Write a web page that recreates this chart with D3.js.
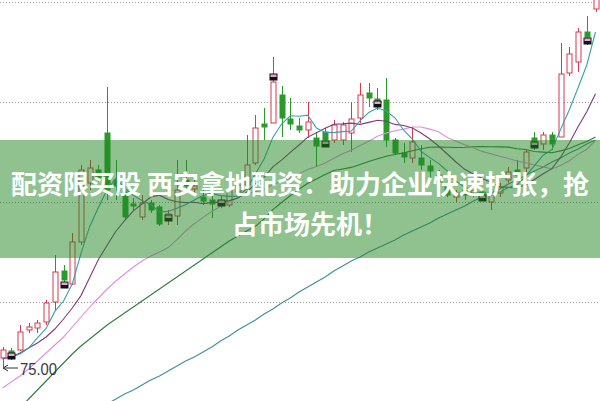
<!DOCTYPE html>
<html><head><meta charset="utf-8">
<script src="https://cdn.jsdelivr.net/npm/d3@7"></script>
<style>html,body{margin:0;padding:0;background:#fff;overflow:hidden}</style>
</head><body>
<svg id="c" width="600" height="401" xmlns="http://www.w3.org/2000/svg"></svg>
<script>
// ---- data ----
const opens  = [75.9,76.6,76.7,78.7,78.9,79.5,81.5,84.6,83.3,87.5,93.4,94.7,98.4,93.7,92.5,91.3,90.0,91.4,91.0,89.7,90.1,93.7,92.8,92.0,91.7,91.2,91.2,92.5,93.2,95.4,99.3,99.4,102.2,99.8,99.1,98.7,97.9,98.5,97.7,97.7,98.4,99.9,102.4,101.8,101.7,97.7,96.4,95.9,95.9,95.1,94.2,93.0,92.0,92.7,92.4,92.5,91.5,92.4,93.7,94.7,94.9,97.9,97.3,98.2,98.0,104.4,105.5,108.5,110.8];
const highs  = [77.0,76.9,79.2,79.4,79.7,81.7,86.2,85.2,88.4,95.2,95.7,95.2,103.0,95.7,93.4,91.9,92.2,91.7,91.2,90.7,95.7,95.7,93.7,92.7,93.5,92.1,93.7,93.7,98.2,100.2,100.9,106.0,103.1,101.9,99.9,101.5,98.5,98.9,99.7,99.5,101.5,103.4,103.4,102.9,103.9,97.9,97.4,99.0,97.2,95.7,94.7,93.7,92.7,93.2,93.4,92.9,92.5,93.4,95.0,95.7,96.7,98.5,98.5,98.5,107.4,107.0,108.9,110.1,113.0];
const lows   = [75.0,75.7,76.6,78.4,78.4,79.2,80.7,83.5,83.2,87.2,92.7,93.5,91.7,91.7,89.7,90.7,89.7,90.4,89.1,89.2,89.2,92.7,92.2,91.2,89.9,90.9,91.0,92.2,92.7,95.2,97.7,99.4,98.0,98.7,98.4,97.9,95.0,97.0,97.4,97.2,96.5,99.4,101.0,100.7,97.0,96.2,95.4,95.4,94.7,93.9,93.2,92.0,91.5,91.7,92.0,91.7,90.7,92.0,93.4,94.2,94.5,96.7,96.7,96.7,98.0,104.1,104.5,107.2,110.5];
const closes = [76.7,76.0,78.5,79.0,79.4,81.4,84.5,83.7,87.5,94.7,94.9,93.9,92.7,93.1,90.0,91.1,91.4,90.7,89.3,90.3,92.7,93.1,93.1,91.6,91.3,91.6,92.7,93.2,95.2,98.9,99.0,103.5,99.9,99.3,98.7,99.5,97.1,97.7,99.2,99.2,99.8,102.2,101.9,101.4,97.7,96.4,96.0,97.5,95.2,94.6,93.5,92.2,92.4,92.2,92.9,92.1,92.2,93.0,94.5,94.2,96.5,97.5,98.2,97.3,104.3,106.3,108.5,108.0,112.5];

const ma5  = [75.9,76.0,76.3,76.9,77.92,78.86,80.56,81.6,83.3,86.36,89.06,90.94,92.74,93.86,92.92,92.16,91.66,91.26,90.5,90.56,90.88,91.22,91.7,92.16,92.36,92.14,92.06,92.08,92.8,94.32,95.8,97.96,99.3,100.12,100.08,100.18,98.9,98.46,98.44,98.54,98.6,99.62,100.46,100.9,100.6,99.92,98.68,97.8,96.56,95.94,95.36,94.6,93.58,92.98,92.64,92.36,92.36,92.48,92.94,93.2,94.08,95.14,96.18,96.74,98.76,100.72,102.92,105.2,108.5];
const ma10 = [75.8,76.0,76.4,76.9,77.4,78.0,78.8,79.8,80.9,82.14,83.96,85.75,87.17,88.58,89.64,90.61,91.3,92.0,92.18,91.74,91.52,91.44,91.48,91.33,91.46,91.51,91.64,91.89,92.48,93.34,93.97,95.01,95.69,96.46,97.2,97.99,98.43,98.88,99.28,99.31,99.39,99.26,99.46,99.67,99.57,99.26,99.15,98.9,98.4,97.8,97.1,96.3,95.5,94.77,94.29,93.86,93.48,93.03,92.96,92.92,93.22,93.75,94.33,94.84,95.98,97.4,99.03,100.53,102.33];
const ma20 = [72.9,73.5,74.1,74.8,75.6,76.4,77.2,78.0,79.0,80.0,81.0,81.9,82.8,83.6,84.3,85.0,85.6,86.1,86.5,86.94,87.74,88.6,89.33,89.96,90.55,91.06,91.47,91.95,92.33,92.54,92.75,93.23,93.59,93.9,94.33,94.75,95.04,95.39,95.88,96.33,96.68,97.14,97.58,98.07,98.39,98.63,98.79,99.0,99.0,98.79,98.52,97.95,97.58,97.22,96.93,96.56,96.32,96.08,95.85,95.6,95.43,95.2,95.01,94.81,95.14,95.63,96.26,96.78,97.65];
const ma30 = [69.2,70.0,70.9,71.8,72.7,73.6,74.5,75.4,76.3,77.1,77.8,78.5,79.2,79.8,80.4,81.0,81.6,82.2,82.8,83.4,84.0,84.6,85.2,85.8,86.4,87.0,87.6,88.1,88.6,89.07,89.82,90.73,91.45,92.12,92.77,93.37,93.79,94.26,94.65,94.8,94.96,95.24,95.54,95.82,96.08,96.25,96.41,96.63,96.83,96.97,97.0,96.97,96.95,96.97,97.02,97.04,97.02,97.01,96.99,96.83,96.75,96.55,96.49,96.43,96.61,96.84,97.22,97.56,98.01];
const ma60 = [null,null,null,null,null,null,null,null,null,null,null,null,71.3,71.8,72.3,72.7,73.2,73.7,74.1,74.6,75.1,75.6,76.0,76.5,77.0,77.6,78.1,78.7,79.2,79.7,80.3,80.8,81.4,81.9,82.5,83.0,83.5,84.0,84.6,85.1,85.6,86.0,86.5,86.9,87.3,87.7,88.2,88.6,89.0,89.4,89.9,90.3,90.7,91.1,91.6,92.0,92.4,92.8,93.3,93.7,94.2,94.6,95.0,95.5,95.9,96.4,96.8,97.3,97.7];

const gridPrices  = [81.45, 91.45, 101.45, 111.45];
const markerIdx   = [1, 7, 19, 25, 31, 37, 43, 55, 61, 67];
const markerPrice = [76.1, 83.2, 89.9, 91.4, 104.0, 97.3, 101.3, 91.9, 97.2, 107.6];
const lowIdx = 0, lowPrice = 75.00, lowLabel = "75.00";
const bannerLines = ["配资限买股 西安拿地配资：助力企业快速扩张，抢", "占市场先机！"];

// ---- scales ----
const svg = d3.select("#c");
const x = d3.scaleLinear().domain([0, closes.length - 1]).range([2.5, 595.5]);
const y = d3.scaleLinear().domain([75, 111.45]).range([367, 2.5]);

const RED = "#d6384e", GREEN = "#2a9a2a";

// grid
svg.append("g").selectAll("line").data(gridPrices).join("line")
  .attr("x1", 0).attr("x2", 600)
  .attr("y1", d => y(d)).attr("y2", d => y(d))
  .attr("stroke", "#9a9a9a").attr("stroke-width", 1).attr("stroke-dasharray", "1,2");

// candles
const candles = svg.append("g");
closes.forEach((c, i) => {
  const o = opens[i], up = c >= o;
  const cx = Math.round(x(i)) + 0.5;
  const col = up ? RED : GREEN;
  candles.append("line").attr("x1", cx).attr("x2", cx)
    .attr("y1", y(highs[i])).attr("y2", y(lows[i]))
    .attr("stroke", col).attr("stroke-width", 1);
  const top = y(Math.max(o, c)), bot = y(Math.min(o, c));
  const h = Math.max(1, bot - top);
  if (up) {
    candles.append("rect").attr("x", cx - 2.5).attr("width", 5)
      .attr("y", top).attr("height", h)
      .attr("fill", "#fff").attr("stroke", col).attr("stroke-width", 1);
  } else {
    candles.append("rect").attr("x", cx - 3).attr("width", 6)
      .attr("y", top - 0.5).attr("height", h + 1)
      .attr("fill", col);
  }
});

// moving averages
const line = d3.line().defined(d => d != null).x((d, i) => x(i)).y(d => y(d));
const series = [
  [ma60, "#3f8e9c"],
  [ma30, "#2f7d3c"],
  [ma20, "#e38de3"],
  [ma10, "#83387c"],
  [ma5,  "#3aa0aa"]
];
series.forEach(([vals, col]) => {
  svg.append("path").datum(vals).attr("d", line)
    .attr("fill", "none").attr("stroke", col).attr("stroke-width", 1.1);
});

// markers
const mk = svg.append("g");
markerIdx.forEach((idx, k) => {
  const cx = Math.round(x(idx)), cy = y(markerPrice[k]);
  mk.append("rect").attr("x", cx - 3.5).attr("y", cy - 3.5).attr("width", 8).attr("height", 7).attr("fill", "#111");
  mk.append("rect").attr("x", cx - 2.5).attr("y", cy - 2.5).attr("width", 6).attr("height", 2.5).attr("fill", "#e7a3e0");
});

// low annotation
const ax = x(lowIdx) + 0.5, ay = y(lowPrice) + 1;
svg.append("path")
  .attr("d", `M${ax},${ay}L${ax + 15},${ay}M${ax},${ay}L${ax + 5},${ay - 3}M${ax},${ay}L${ax + 5},${ay + 3}`)
  .attr("stroke", "#333").attr("stroke-width", 1).attr("fill", "none");
svg.append("text").attr("x", ax + 17).attr("y", ay + 7)
  .attr("font-family", "Liberation Sans, Arial, sans-serif").attr("font-size", 17)
  .attr("textLength", 37).attr("lengthAdjust", "spacingAndGlyphs")
  .attr("fill", "#3a3a3a").text(lowLabel);

// banner
svg.append("rect").attr("x", 0).attr("y", 140).attr("width", 600).attr("height", 118)
  .attr("fill", "rgb(31,133,31)").attr("fill-opacity", 0.5);
svg.append("g").selectAll("text").data(bannerLines).join("text")
  .attr("x", (d, i) => i === 0 ? 300 : 310).attr("y", (d, i) => 182 + i * 40)
  .attr("text-anchor", "middle").attr("dominant-baseline", "central")
  .attr("font-family", "Noto Sans CJK SC").attr("font-weight", 700).attr("font-size", 26)
  .attr("fill", "#fff").text(d => d);
</script>
</body></html>
